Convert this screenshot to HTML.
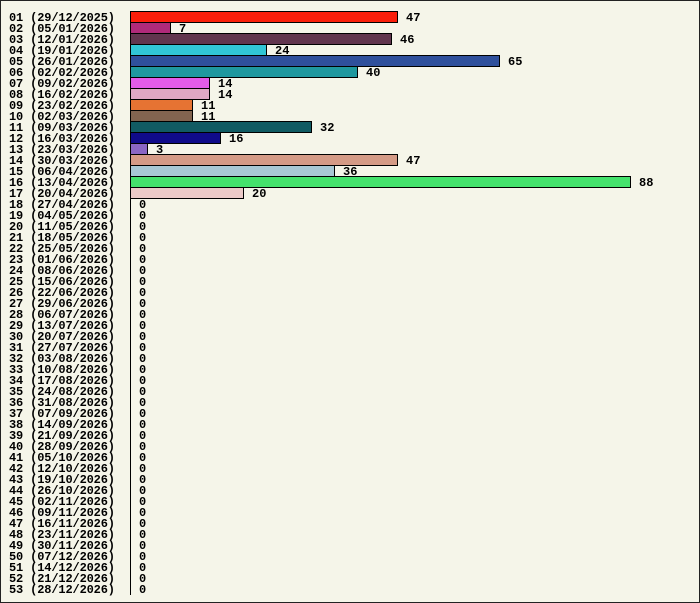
<!DOCTYPE html>
<html><head><style>
html,body{margin:0;padding:0;background:#f5f5e9}
svg{display:block}
text{font-family:"Liberation Mono",monospace;font-weight:bold;font-size:12px;fill:#000}
</style></head><body>
<svg width="700" height="603" xmlns="http://www.w3.org/2000/svg">
<rect x="0.5" y="0.5" width="699" height="602" fill="#f5f5e9" stroke="#222"/>
<line x1="130.5" y1="11" x2="130.5" y2="595" stroke="#000"/>
<g stroke="#000" stroke-width="1">
<rect x="130.5" y="11.5" width="267" height="11" fill="#fa1e0a"/>
<rect x="130.5" y="22.5" width="40" height="11" fill="#b02a7a"/>
<rect x="130.5" y="33.5" width="261" height="11" fill="#61354e"/>
<rect x="130.5" y="44.5" width="136" height="11" fill="#31c6d6"/>
<rect x="130.5" y="55.5" width="369" height="11" fill="#2f509c"/>
<rect x="130.5" y="66.5" width="227" height="11" fill="#1f989f"/>
<rect x="130.5" y="77.5" width="79" height="11" fill="#e35ce8"/>
<rect x="130.5" y="88.5" width="79" height="11" fill="#e0a7c4"/>
<rect x="130.5" y="99.5" width="62" height="11" fill="#e67333"/>
<rect x="130.5" y="110.5" width="62" height="11" fill="#826450"/>
<rect x="130.5" y="121.5" width="181" height="11" fill="#115b63"/>
<rect x="130.5" y="132.5" width="90" height="11" fill="#100b8a"/>
<rect x="130.5" y="143.5" width="17" height="11" fill="#8a66c4"/>
<rect x="130.5" y="154.5" width="267" height="11" fill="#d49a86"/>
<rect x="130.5" y="165.5" width="204" height="11" fill="#a8c8d4"/>
<rect x="130.5" y="176.5" width="500" height="11" fill="#44e26c"/>
<rect x="130.5" y="187.5" width="113" height="11" fill="#eccac8"/>
</g>
<g>
<text x="406" y="21">47</text><text x="179" y="32">7</text><text x="400" y="43">46</text>
<text x="275" y="54">24</text><text x="508" y="65">65</text><text x="366" y="76">40</text>
<text x="218" y="87">14</text><text x="218" y="98">14</text><text x="201" y="109">11</text>
<text x="201" y="120">11</text><text x="320" y="131">32</text><text x="229" y="142">16</text>
<text x="156" y="153">3</text><text x="406" y="164">47</text><text x="343" y="175">36</text>
<text x="639" y="186">88</text><text x="252" y="197">20</text>
<text x="139" y="208">0</text><text x="139" y="219">0</text><text x="139" y="230">0</text><text x="139" y="241">0</text><text x="139" y="252">0</text><text x="139" y="263">0</text><text x="139" y="274">0</text><text x="139" y="285">0</text><text x="139" y="296">0</text><text x="139" y="307">0</text><text x="139" y="318">0</text><text x="139" y="329">0</text><text x="139" y="340">0</text><text x="139" y="351">0</text><text x="139" y="362">0</text><text x="139" y="373">0</text><text x="139" y="384">0</text><text x="139" y="395">0</text><text x="139" y="406">0</text><text x="139" y="417">0</text><text x="139" y="428">0</text><text x="139" y="439">0</text><text x="139" y="450">0</text><text x="139" y="461">0</text><text x="139" y="472">0</text><text x="139" y="483">0</text><text x="139" y="494">0</text><text x="139" y="505">0</text><text x="139" y="516">0</text><text x="139" y="527">0</text><text x="139" y="538">0</text><text x="139" y="549">0</text><text x="139" y="560">0</text><text x="139" y="571">0</text><text x="139" y="582">0</text><text x="139" y="593">0</text>
</g>
<g>
<text x="9" y="21" textLength="106">01 (29/12/2025)</text>
<text x="9" y="32" textLength="106">02 (05/01/2026)</text>
<text x="9" y="43" textLength="106">03 (12/01/2026)</text>
<text x="9" y="54" textLength="106">04 (19/01/2026)</text>
<text x="9" y="65" textLength="106">05 (26/01/2026)</text>
<text x="9" y="76" textLength="106">06 (02/02/2026)</text>
<text x="9" y="87" textLength="106">07 (09/02/2026)</text>
<text x="9" y="98" textLength="106">08 (16/02/2026)</text>
<text x="9" y="109" textLength="106">09 (23/02/2026)</text>
<text x="9" y="120" textLength="106">10 (02/03/2026)</text>
<text x="9" y="131" textLength="106">11 (09/03/2026)</text>
<text x="9" y="142" textLength="106">12 (16/03/2026)</text>
<text x="9" y="153" textLength="106">13 (23/03/2026)</text>
<text x="9" y="164" textLength="106">14 (30/03/2026)</text>
<text x="9" y="175" textLength="106">15 (06/04/2026)</text>
<text x="9" y="186" textLength="106">16 (13/04/2026)</text>
<text x="9" y="197" textLength="106">17 (20/04/2026)</text>
<text x="9" y="208" textLength="106">18 (27/04/2026)</text>
<text x="9" y="219" textLength="106">19 (04/05/2026)</text>
<text x="9" y="230" textLength="106">20 (11/05/2026)</text>
<text x="9" y="241" textLength="106">21 (18/05/2026)</text>
<text x="9" y="252" textLength="106">22 (25/05/2026)</text>
<text x="9" y="263" textLength="106">23 (01/06/2026)</text>
<text x="9" y="274" textLength="106">24 (08/06/2026)</text>
<text x="9" y="285" textLength="106">25 (15/06/2026)</text>
<text x="9" y="296" textLength="106">26 (22/06/2026)</text>
<text x="9" y="307" textLength="106">27 (29/06/2026)</text>
<text x="9" y="318" textLength="106">28 (06/07/2026)</text>
<text x="9" y="329" textLength="106">29 (13/07/2026)</text>
<text x="9" y="340" textLength="106">30 (20/07/2026)</text>
<text x="9" y="351" textLength="106">31 (27/07/2026)</text>
<text x="9" y="362" textLength="106">32 (03/08/2026)</text>
<text x="9" y="373" textLength="106">33 (10/08/2026)</text>
<text x="9" y="384" textLength="106">34 (17/08/2026)</text>
<text x="9" y="395" textLength="106">35 (24/08/2026)</text>
<text x="9" y="406" textLength="106">36 (31/08/2026)</text>
<text x="9" y="417" textLength="106">37 (07/09/2026)</text>
<text x="9" y="428" textLength="106">38 (14/09/2026)</text>
<text x="9" y="439" textLength="106">39 (21/09/2026)</text>
<text x="9" y="450" textLength="106">40 (28/09/2026)</text>
<text x="9" y="461" textLength="106">41 (05/10/2026)</text>
<text x="9" y="472" textLength="106">42 (12/10/2026)</text>
<text x="9" y="483" textLength="106">43 (19/10/2026)</text>
<text x="9" y="494" textLength="106">44 (26/10/2026)</text>
<text x="9" y="505" textLength="106">45 (02/11/2026)</text>
<text x="9" y="516" textLength="106">46 (09/11/2026)</text>
<text x="9" y="527" textLength="106">47 (16/11/2026)</text>
<text x="9" y="538" textLength="106">48 (23/11/2026)</text>
<text x="9" y="549" textLength="106">49 (30/11/2026)</text>
<text x="9" y="560" textLength="106">50 (07/12/2026)</text>
<text x="9" y="571" textLength="106">51 (14/12/2026)</text>
<text x="9" y="582" textLength="106">52 (21/12/2026)</text>
<text x="9" y="593" textLength="106">53 (28/12/2026)</text>
</g>
</svg>
</body></html>
